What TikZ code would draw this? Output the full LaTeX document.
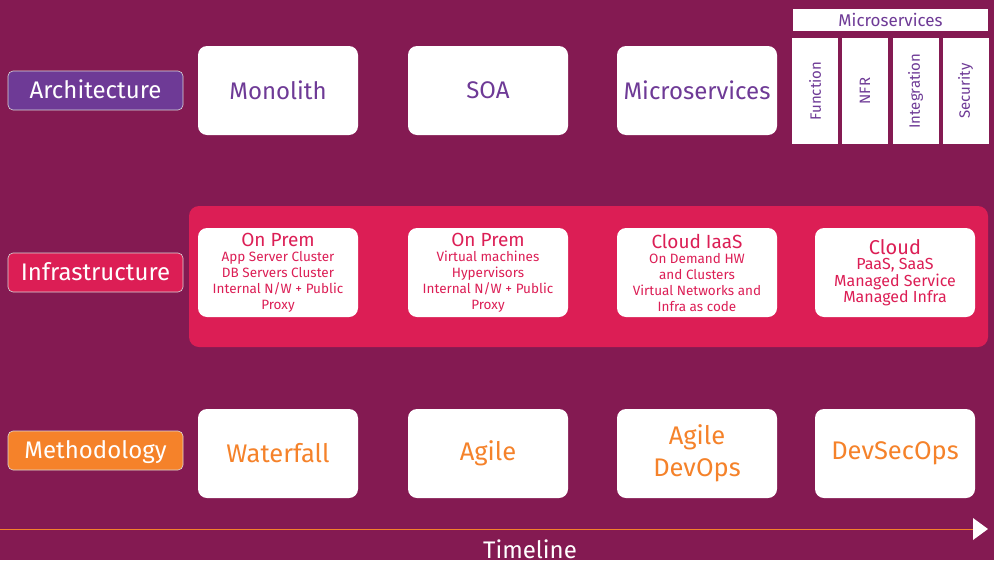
\documentclass[tikz,border=0pt]{standalone}
\usepackage{fontspec}
\setmainfont{Fira Sans}
\definecolor{bg}{HTML}{841A52}
\definecolor{archc}{HTML}{6E3A96}
\definecolor{infc}{HTML}{DC1E55}
\definecolor{metc}{HTML}{F5822A}
\begin{document}
\begin{tikzpicture}[x=1pt,y=-1pt,
  lab/.style={draw=white!70!gray,line width=0.6pt,rounded corners=5pt,minimum width=175pt,minimum height=39pt,text=white,font=\fontsize{24}{28}\selectfont,inner sep=0pt,text height=18.5pt,text depth=2pt},
  wbox/.style={fill=white,rounded corners=9pt,minimum width=160pt,minimum height=89pt,inner sep=2pt,align=center},
  archt/.style={text=archc,font=\fontsize{24}{28}\selectfont},
  mett/.style={text=metc,font=\fontsize{25.5}{32}\selectfont},
  inft/.style={text=infc,font=\fontsize{13.5}{16}\selectfont},
  col/.style={fill=white,minimum width=46pt,minimum height=106pt,inner sep=0pt},
  colt/.style={text=archc,font=\fontsize{15}{17}\selectfont,rotate=90}
]
\fill[bg] (0,0) rectangle (994,560);
\useasboundingbox (0,0) rectangle (994,560);
% Architecture row
\node[lab,fill=archc] (larch) at (95.5,90.5) {Architecture};
\node[wbox,archt] (mono) at (278,90.5) {Monolith};
\node[wbox,archt] (soa) at (488,90.5) {SOA};
\node[wbox,archt] (micro) at (697,90.5) {Microservices};
\node[fill=white,minimum width=195pt,minimum height=22pt,inner sep=0pt,text=archc,font=\fontsize{17}{19}\selectfont] (mhead) at (890.5,20) {Microservices};
\node[col] (c1) at (815,91) {}; \node[colt] at (c1) {Function};
\node[col] (c2) at (865,91) {}; \node[colt] at (c2) {NFR};
\node[col] (c3) at (915.5,91) {}; \node[colt] at (c3) {Integration};
\node[col] (c4) at (965.5,91) {}; \node[colt] at (c4) {Security};
% Infrastructure row
\fill[infc,rounded corners=10pt] (189,206) rectangle (988,347);
\node[lab,fill=infc] (linf) at (95.5,272.5) {Infrastructure};
\node[wbox,inft] (i1) at (278,272.5) {{\fontsize{19}{20}\selectfont On Prem}\\[-1pt]App Server Cluster\\DB Servers Cluster\\Internal N/W + Public\\Proxy};
\node[wbox,inft] (i2) at (488,272.5) {{\fontsize{19}{20}\selectfont On Prem}\\[-1pt]Virtual machines\\Hypervisors\\Internal N/W + Public\\Proxy};
\node[wbox,inft] (i3) at (697,272.5) {{\fontsize{19}{20}\selectfont Cloud IaaS}\\[-1pt]On Demand HW\\and Clusters\\Virtual Networks and\\Infra as code};
\node[wbox,inft,font=\fontsize{16}{16.5}\selectfont] (i4) at (895,272.5) {{\fontsize{20}{20}\selectfont Cloud}\\[-1pt]PaaS, SaaS\\Managed Service\\Managed Infra};
% Methodology row
\node[lab,fill=metc] (lmet) at (95.5,450.5) {Methodology};
\node[wbox,mett] (m1) at (278,453.5) {Waterfall};
\node[wbox,mett] (m2) at (488,453.5) {Agile};
\node[wbox,mett] (m3) at (697,453.5) {Agile\\DevOps};
\node[wbox,mett] (m4) at (895,453.5) {DevSecOps};
% Timeline
\coordinate (t0) at (0,529);
\coordinate (t1) at (974,529);
\draw[metc,line width=0.8pt] (t0) -- (t1);
\fill[white] (973,518) -- (988,529) -- (973,540) -- cycle;
\node[text=white,font=\fontsize{24}{28}\selectfont,anchor=base] (tl) at (530,558) {Timeline};
\end{tikzpicture}
\end{document}
